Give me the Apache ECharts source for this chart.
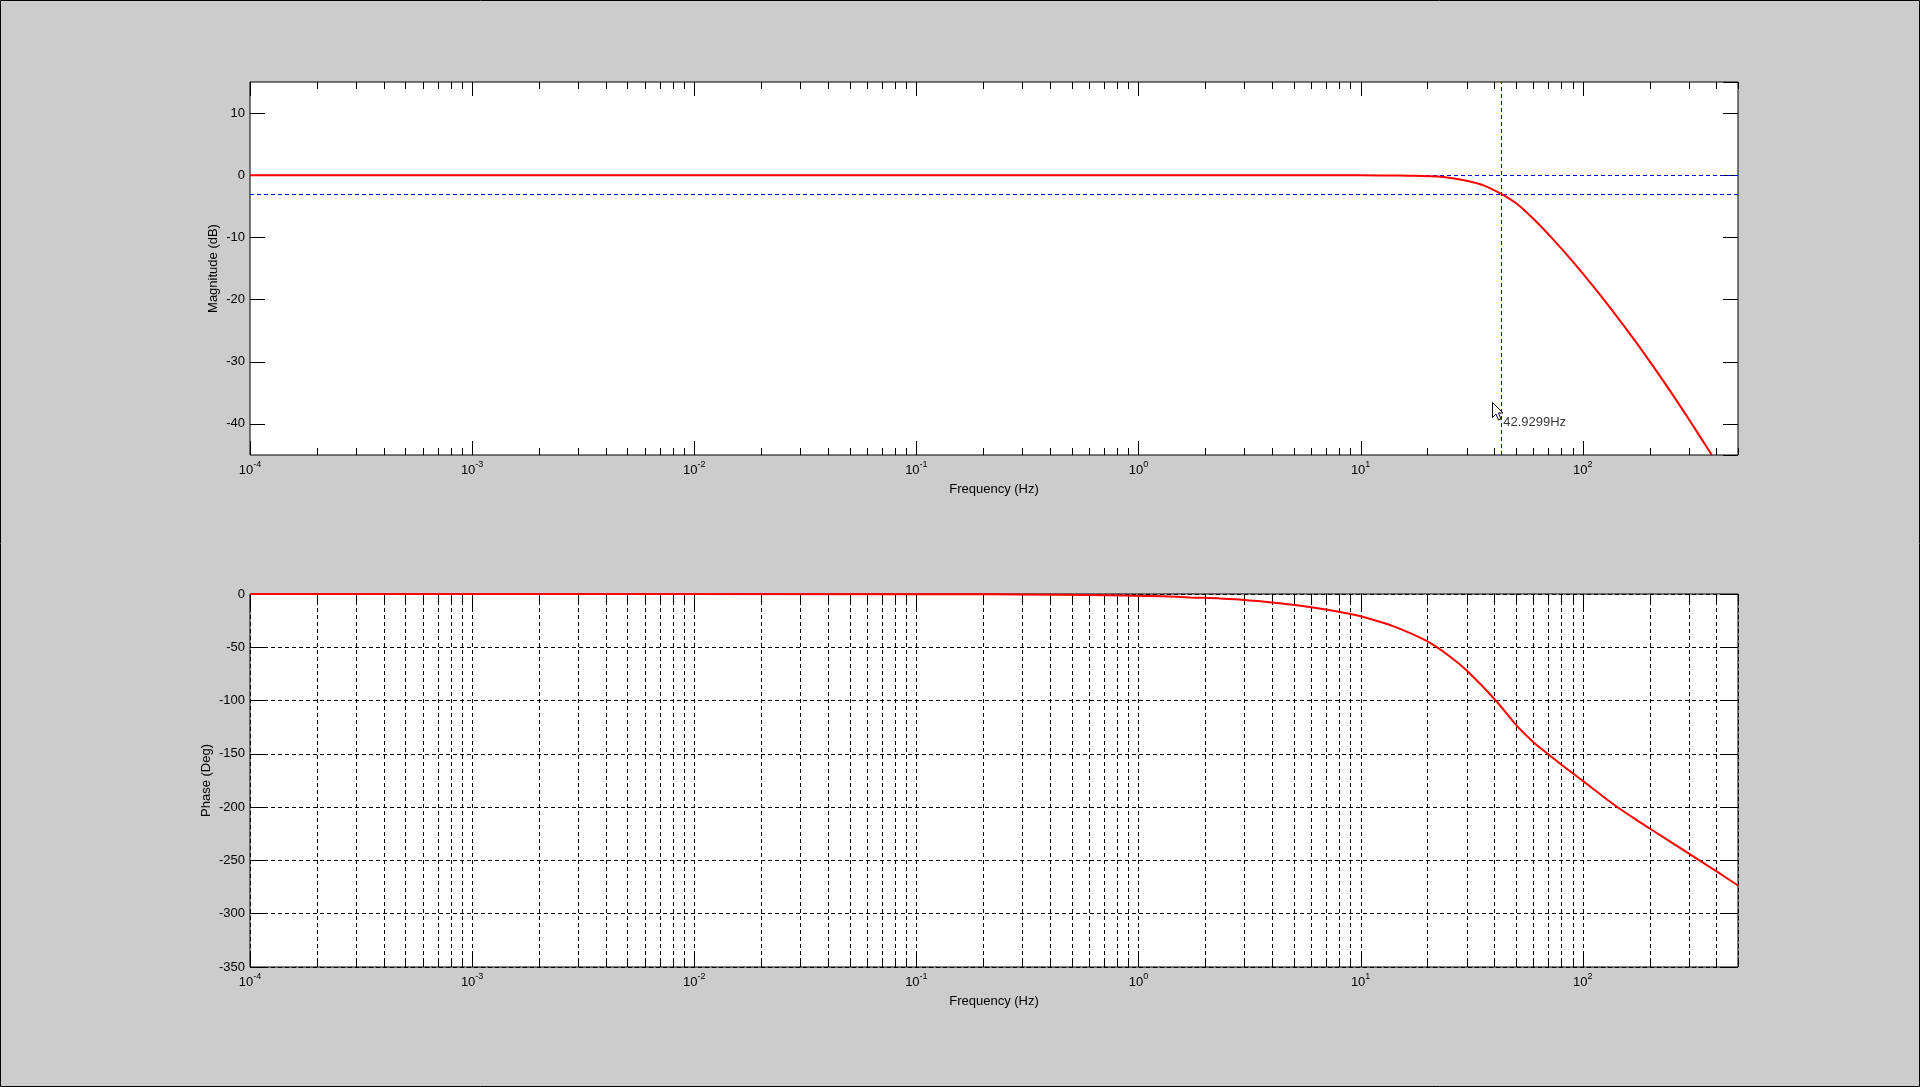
<!DOCTYPE html>
<html><head><meta charset="utf-8">
<script src="https://cdn.jsdelivr.net/npm/echarts@6/dist/echarts.min.js"></script>
<style>html,body{margin:0;padding:0;background:#cccccc;overflow:hidden}#c{width:1920px;height:1087px}</style>
</head><body><div id="c"></div>
<script>
// ---------- data ----------
const magFreq = [1e-4, 1, 10, 15, 17.7, 22.1, 25.4, 30.3, 36.0, 42.93, 50.8, 60.4, 71.8, 89.8, 100, 120, 150, 185.7, 240, 296, 381];
const magDb   = [0, 0, -0.02, -0.06, -0.1, -0.2, -0.43, -0.91, -1.66, -3.0, -4.66, -7.13, -9.92, -13.8, -15.8, -19.3, -23.8, -28.3, -34.0, -38.9, -45];

const phaseFreq = [1e-4, 0.1, 0.42, 0.86, 1.28, 1.71, 2.55, 3.43, 4.22, 5.37, 7.08, 9.02, 10.7, 14.1, 20.0, 25.4, 30.3, 40.3, 50.8, 60.4, 70.6, 81.1, 100.7, 129, 143, 173, 202, 301, 404, 500];
const phaseDeg  = [0, -0.15, -0.7, -1.3, -2.2, -3.2, -4.7, -6.6, -8.5, -11, -14.7, -18.8, -22.5, -30.4, -44.5, -59.1, -72.5, -99.2, -124.2, -139.5, -151, -161, -175.8, -193, -199.9, -211.5, -220.5, -243.7, -260.8, -273.5];

const tickDecades = [-4, -3, -2, -1, 0, 1, 2];
const tickMultipliers = [1, 2, 3, 4, 5, 6, 7, 8, 9];
const freqMin = 1e-4, freqMax = 500;
const magMin = -45, magMax = 15, magSplits = 6;
const phaseMin = -350, phaseMax = 0, phaseSplits = 7;

const cursorFreq = 42.9299;
const cursorMag = -3;
const cursorLabel = '42.9299Hz';
const cursorLabelMag = -39.8;

const xName = 'Frequency (Hz)';
const magName = 'Magnitude (dB)';
const phaseName = 'Phase (Deg)';

// ---------- helpers ----------
const FONT = '"Liberation Sans", Arial, Helvetica, sans-serif';
const tickData = [];
tickDecades.forEach(d => tickMultipliers.forEach(m => {
  const f = m * Math.pow(10, d);
  if (f >= freqMin * 0.999 && f <= freqMax * 1.001) tickData.push([f, 0, m === 1 ? 1 : 0]);
}));

function fmtPow(v) {
  const l = Math.log10(v), e = Math.round(l);
  if (Math.abs(l - e) > 1e-6) return '';
  return '{b|10}{s|' + e + '}';
}

function makeTickRender(withGrid) {
  return function (params, api) {
    const cs = params.coordSys;
    const x = Math.round(api.coord([api.value(0), api.value(1)])[0]) + 0.5;
    const major = api.value(2) === 1;
    const len = major ? 14 : 7;
    const top = cs.y, bot = cs.y + cs.height;
    const children = [];
    if (withGrid) children.push({type: 'line', shape: {x1: x, y1: top, x2: x, y2: bot}, style: {stroke: '#000', lineWidth: 1, lineDash: [4, 3]}});
    children.push({type: 'line', shape: {x1: x, y1: top, x2: x, y2: top + len}, style: {stroke: '#000', lineWidth: 1}});
    children.push({type: 'line', shape: {x1: x, y1: bot, x2: x, y2: bot - len}, style: {stroke: '#000', lineWidth: 1}});
    return {type: 'group', children};
  };
}

function xAxisCfg(gi) {
  return {
    type: 'log', logBase: 10, gridIndex: gi, min: freqMin, max: freqMax,
    axisLine: {show: false}, axisTick: {show: false}, splitLine: {show: false}, minorTick: {show: false},
    axisLabel: {
      margin: 5, color: '#000', fontFamily: FONT, formatter: fmtPow, showMaxLabel: false,
      rich: {
        b: {fontSize: 13, lineHeight: 17, verticalAlign: 'bottom', color: '#000', fontFamily: FONT},
        s: {fontSize: 9, lineHeight: 17, verticalAlign: 'top', color: '#000', fontFamily: FONT}
      }
    },
    name: xName, nameLocation: 'middle', nameGap: 28,
    nameTextStyle: {fontSize: 13, color: '#000', fontFamily: FONT}
  };
}

function yAxisCfg(gi, min, max, splits, pos, name, gap, grid, showEnds) {
  const left = pos === 'left';
  return {
    type: 'value', gridIndex: gi, position: pos, min, max, splitNumber: splits,
    axisLine: {show: false},
    axisTick: {show: true, inside: true, length: 15, lineStyle: {color: '#000', width: 1}},
    axisLabel: {show: left, color: '#000', fontSize: 13, fontFamily: FONT, margin: 5, showMinLabel: showEnds, showMaxLabel: showEnds},
    splitLine: {show: grid && left, lineStyle: {color: '#000', width: 1, type: [4, 3]}},
    name: left ? name : '', nameLocation: 'middle', nameGap: gap, nameRotate: 90, nameMoveOverlap: false,
    nameTextStyle: {fontSize: 13, color: '#000', fontFamily: FONT}
  };
}

const chart = echarts.init(document.getElementById('c'), null, {renderer: 'canvas'});
const option = {
  animation: false,
  backgroundColor: '#cccccc',
  grid: [
    {left: 250, top: 82, width: 1488, height: 373, show: true, backgroundColor: '#ffffff', borderColor: '#000', borderWidth: 1},
    {left: 250, top: 594, width: 1488, height: 373, show: true, backgroundColor: '#ffffff', borderColor: '#000', borderWidth: 1}
  ],
  xAxis: [xAxisCfg(0), xAxisCfg(1)],
  yAxis: [
    yAxisCfg(0, magMin, magMax, magSplits, 'left', magName, 30, false, false),
    yAxisCfg(0, magMin, magMax, magSplits, 'right', '', 0, false, false),
    yAxisCfg(1, phaseMin, phaseMax, phaseSplits, 'left', phaseName, 37, true, true),
    yAxisCfg(1, phaseMin, phaseMax, phaseSplits, 'right', '', 0, false, true)
  ],
  series: [
    {type: 'custom', xAxisIndex: 0, yAxisIndex: 0, renderItem: makeTickRender(false), data: tickData, encode: {x: 0, y: 1}, silent: true, z: 1},
    {type: 'custom', xAxisIndex: 1, yAxisIndex: 2, renderItem: makeTickRender(true), data: tickData, encode: {x: 0, y: 1}, silent: true, z: 1},
    {
      type: 'line', xAxisIndex: 0, yAxisIndex: 0, data: [[cursorFreq, cursorMag]], showSymbol: false, symbol: 'none',
      lineStyle: {width: 0}, silent: true, z: 3,
      markLine: {
        silent: true, symbol: ['none', 'none'], animation: false, label: {show: false},
        lineStyle: {color: '#0000ff', width: 1, type: [4, 3]},
        emphasis: {disabled: true},
        data: [{yAxis: 0}, {yAxis: cursorMag}, {xAxis: cursorFreq}]
      }
    },
    {
      type: 'line', xAxisIndex: 0, yAxisIndex: 0, z: 5, silent: true,
      data: magFreq.map((f, i) => [f, magDb[i]]),
      showSymbol: false, symbol: 'none', smooth: 0.35,
      lineStyle: {color: '#ff0000', width: 2}
    },
    {
      type: 'line', xAxisIndex: 1, yAxisIndex: 2, z: 5, silent: true,
      data: phaseFreq.map((f, i) => [f, phaseDeg[i]]),
      showSymbol: false, symbol: 'none', smooth: 0.35,
      lineStyle: {color: '#ff0000', width: 2}
    },
    {
      type: 'scatter', xAxisIndex: 0, yAxisIndex: 0, z: 6, silent: true, symbolSize: 0,
      data: [[cursorFreq, cursorLabelMag]],
      label: {show: true, position: 'right', distance: 2, formatter: cursorLabel, color: '#000', fontSize: 13, fontFamily: FONT}
    }
  ]
};
chart.setOption(option);

// mouse-pointer decoration next to the cursor label, placed from the chart's own scale
const p = chart.convertToPixel({xAxisIndex: 0, yAxisIndex: 0}, [cursorFreq, cursorLabelMag]);
const tx = Math.round(p[0]) - 9 + 0.5, ty = Math.round(p[1]) - 21 + 0.5;
const arrow = [[0,0],[0,15],[3.5,11.5],[6,17.5],[8.5,16.5],[6,10.5],[10.5,10.5]].map(q => [tx + q[0], ty + q[1]]);
chart.setOption({
  graphic: [
    {type: 'polygon', z: 100, shape: {points: arrow}, style: {fill: '#fff', stroke: '#000', lineWidth: 1}},
    {type: 'rect', z: 100, shape: {x: 0.5, y: 0.5, width: 1919, height: 1086}, style: {fill: 'none', stroke: '#000', lineWidth: 1}}
  ]
});
</script>
</body></html>
